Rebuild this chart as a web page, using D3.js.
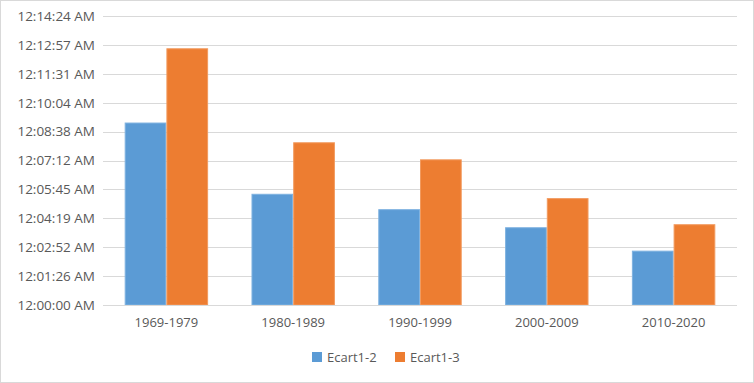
<!DOCTYPE html>
<html>
<head>
<meta charset="utf-8">
<script src="https://cdn.jsdelivr.net/npm/d3@7"></script>
<style>
  html, body { margin: 0; padding: 0; background: #fff; }
  svg { display: block; font-family: "Open Sans", "Liberation Sans", sans-serif; }
</style>
</head>
<body>
<svg id="chart" width="754" height="383"></svg>
<script>
// données (secondes)
const categories = ["1969-1979", "1980-1989", "1990-1999", "2000-2009", "2010-2020"];
const seriesNames = ["Ecart1-2", "Ecart1-3"];
const ecart12 = [544, 331, 285, 231, 161];
const ecart13 = [766, 485, 434, 318, 240];
const tickValues = [0, 86.4, 172.8, 259.2, 345.6, 432, 518.4, 604.8, 691.2, 777.6, 864];
const tickLabels = ["12:00:00 AM", "12:01:26 AM", "12:02:52 AM", "12:04:19 AM", "12:05:45 AM",
  "12:07:12 AM", "12:08:38 AM", "12:10:04 AM", "12:11:31 AM", "12:12:57 AM", "12:14:24 AM"];

const colors = ["#5B9BD5", "#ED7D31"];
const strokes = ["#7fb2e0", "#f29a5e"];

const svg = d3.select("#chart");
const W = +svg.attr("width"), H = +svg.attr("height");

// cadre
svg.append("rect")
  .attr("x", 0.5).attr("y", 0.5)
  .attr("width", W - 1).attr("height", H - 1)
  .attr("fill", "#fff").attr("stroke", "#d9d9d9");

const plot = { left: 103, right: 737, top: 16, bottom: 305 };

const y = d3.scaleLinear().domain([0, 864]).range([plot.bottom, plot.top]);
const x0 = d3.scaleBand().domain(categories).range([plot.left, plot.right]).paddingInner(0.342).paddingOuter(0.171);
const x1 = d3.scaleBand().domain(seriesNames).range([0, x0.bandwidth()]);

// grille
svg.append("g")
  .selectAll("line")
  .data(tickValues)
  .join("line")
  .attr("x1", plot.left).attr("x2", plot.right)
  .attr("y1", d => Math.round(y(d)) + 0.5).attr("y2", d => Math.round(y(d)) + 0.5)
  .attr("stroke", "#d9d9d9").attr("stroke-width", 1);

// axe y
const yAxis = d3.axisLeft(y)
  .tickValues(tickValues)
  .tickFormat((d, i) => tickLabels[i])
  .tickSize(0).tickPadding(8);
svg.append("g")
  .attr("transform", `translate(${plot.left},0)`)
  .call(yAxis)
  .call(g => g.select(".domain").remove())
  .call(g => g.selectAll("text").attr("fill", "#595959").attr("font-size", 13.5).attr("font-family", "Open Sans, sans-serif"));

// barres
const series = [ecart12, ecart13];
const groups = svg.append("g")
  .selectAll("g")
  .data(categories)
  .join("g")
  .attr("transform", d => `translate(${x0(d)},0)`);

groups.selectAll("rect")
  .data((d, i) => seriesNames.map((s, j) => ({ s, j, v: series[j][i] })))
  .join("rect")
  .attr("x", d => x1(d.s) + 0.5)
  .attr("y", d => y(d.v))
  .attr("width", x1.bandwidth() - 1)
  .attr("height", d => plot.bottom - y(d.v))
  .attr("fill", d => colors[d.j])
  .attr("stroke", d => strokes[d.j])
  .attr("stroke-width", 1);

// axe x
svg.append("line")
  .attr("x1", plot.left).attr("x2", plot.right)
  .attr("y1", plot.bottom + 0.5).attr("y2", plot.bottom + 0.5)
  .attr("stroke", "#d9d9d9");

const xAxis = d3.axisBottom(x0).tickSize(0).tickPadding(13);
svg.append("g")
  .attr("transform", `translate(0,${plot.bottom})`)
  .call(xAxis)
  .call(g => g.select(".domain").remove())
  .call(g => g.selectAll("text").attr("fill", "#595959").attr("font-size", 13).attr("font-family", "Open Sans, sans-serif"));

// légende
const legendX = [312, 395];
const legend = svg.append("g")
  .selectAll("g")
  .data(seriesNames)
  .join("g")
  .attr("transform", (d, i) => `translate(${legendX[i]},352)`);

legend.append("rect")
  .attr("width", 10).attr("height", 10)
  .attr("fill", (d, i) => colors[i]);

legend.append("text")
  .attr("x", 15).attr("y", 10)
  .attr("fill", "#595959").attr("font-size", 13)
  .text(d => d);
</script>
</body>
</html>
